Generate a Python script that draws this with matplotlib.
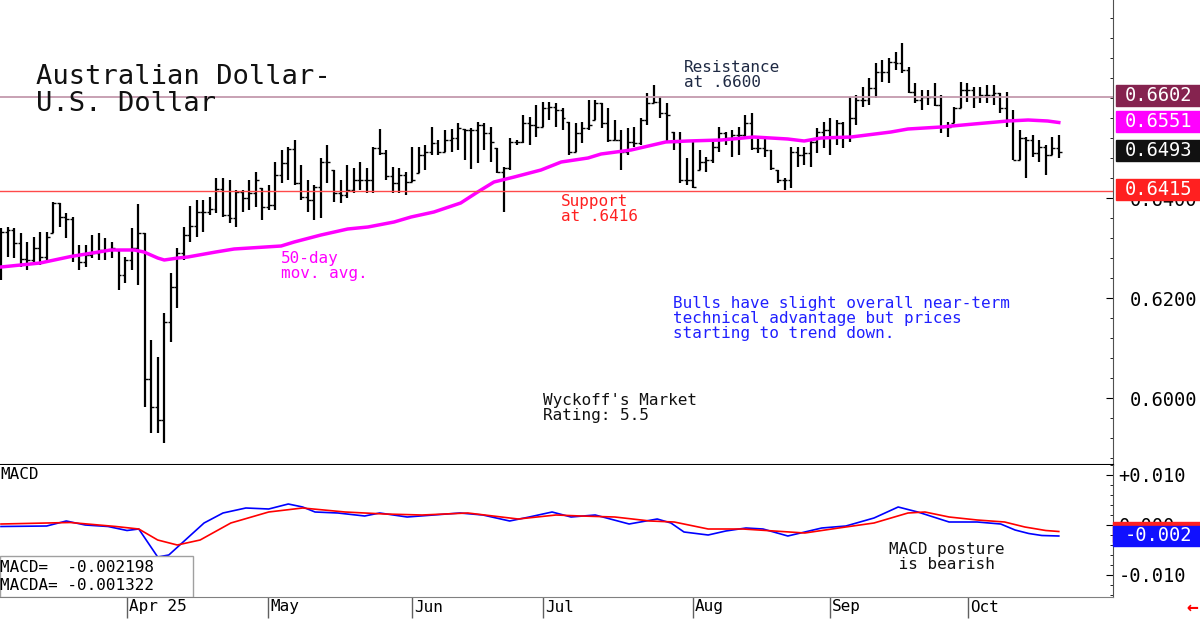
import numpy as np
import matplotlib
matplotlib.use('Agg')
import matplotlib.pyplot as plt
from matplotlib.patches import Rectangle
from matplotlib.ticker import FuncFormatter, MultipleLocator
from matplotlib.transforms import blended_transform_factory

plt.rcParams['font.family'] = 'DejaVu Sans Mono'

# daily bars, early March to late October 2025 (one entry per trading day)
highs = [
    0.6340, 0.6342, 0.6340, 0.6330, 0.6312, 0.6322, 0.6332, 0.6332, 0.6392, 0.6390,
    0.6370, 0.6362, 0.6306, 0.6306, 0.6326, 0.6330, 0.6320, 0.6312, 0.6296, 0.6282,
    0.6340, 0.6388, 0.6330, 0.6116, 0.6082, 0.6170, 0.6250, 0.6300, 0.6342, 0.6384,
    0.6396, 0.6396, 0.6402, 0.6440, 0.6440, 0.6436, 0.6416, 0.6416, 0.6436, 0.6452,
    0.6420, 0.6426, 0.6472, 0.6496, 0.6502, 0.6516, 0.6466, 0.6436, 0.6426, 0.6480,
    0.6506, 0.6456, 0.6436, 0.6466, 0.6460, 0.6472, 0.6460, 0.6502, 0.6538, 0.6496,
    0.6462, 0.6460, 0.6452, 0.6502, 0.6502, 0.6506, 0.6542, 0.6516, 0.6536, 0.6538,
    0.6550, 0.6538, 0.6540, 0.6552, 0.6550, 0.6542, 0.6500, 0.6462, 0.6520, 0.6516,
    0.6566, 0.6562, 0.6586, 0.6592, 0.6592, 0.6590, 0.6580, 0.6552, 0.6550, 0.6552,
    0.6596, 0.6596, 0.6590, 0.6580, 0.6556, 0.6536, 0.6540, 0.6542, 0.6560, 0.6610,
    0.6626, 0.6602, 0.6590, 0.6532, 0.6532, 0.6480, 0.6512, 0.6496, 0.6482, 0.6512,
    0.6542, 0.6532, 0.6536, 0.6542, 0.6566, 0.6570, 0.6522, 0.6522, 0.6496, 0.6456,
    0.6440, 0.6502, 0.6502, 0.6502, 0.6516, 0.6540, 0.6552, 0.6560, 0.6556, 0.6552,
    0.6602, 0.6606, 0.6622, 0.6640, 0.6670, 0.6676, 0.6680, 0.6692, 0.6710, 0.6662,
    0.6630, 0.6616, 0.6616, 0.6630, 0.6606, 0.6552, 0.6582, 0.6632, 0.6630, 0.6622,
    0.6622, 0.6626, 0.6626, 0.6610, 0.6612, 0.6576, 0.6536, 0.6522, 0.6526, 0.6516,
    0.6506, 0.6522, 0.6526]
lows = [
    0.6236, 0.6282, 0.6280, 0.6262, 0.6256, 0.6270, 0.6266, 0.6276, 0.6330, 0.6342,
    0.6320, 0.6272, 0.6256, 0.6262, 0.6280, 0.6276, 0.6276, 0.6280, 0.6216, 0.6230,
    0.6256, 0.6226, 0.5982, 0.5930, 0.5930, 0.5910, 0.6112, 0.6180, 0.6276, 0.6312,
    0.6322, 0.6332, 0.6366, 0.6370, 0.6362, 0.6350, 0.6342, 0.6372, 0.6376, 0.6382,
    0.6356, 0.6376, 0.6376, 0.6430, 0.6436, 0.6426, 0.6396, 0.6372, 0.6356, 0.6360,
    0.6430, 0.6392, 0.6390, 0.6400, 0.6410, 0.6416, 0.6410, 0.6410, 0.6486, 0.6436,
    0.6410, 0.6410, 0.6406, 0.6432, 0.6450, 0.6456, 0.6486, 0.6486, 0.6492, 0.6492,
    0.6496, 0.6476, 0.6458, 0.6470, 0.6496, 0.6472, 0.6450, 0.6372, 0.6456, 0.6506,
    0.6510, 0.6506, 0.6522, 0.6542, 0.6556, 0.6542, 0.6536, 0.6486, 0.6492, 0.6510,
    0.6536, 0.6556, 0.6540, 0.6512, 0.6516, 0.6456, 0.6486, 0.6502, 0.6506, 0.6546,
    0.6590, 0.6560, 0.6512, 0.6496, 0.6430, 0.6426, 0.6420, 0.6456, 0.6452, 0.6470,
    0.6492, 0.6506, 0.6482, 0.6486, 0.6522, 0.6496, 0.6490, 0.6482, 0.6456, 0.6430,
    0.6416, 0.6420, 0.6462, 0.6466, 0.6462, 0.6490, 0.6500, 0.6486, 0.6506, 0.6500,
    0.6512, 0.6546, 0.6582, 0.6586, 0.6600, 0.6632, 0.6630, 0.6656, 0.6650, 0.6610,
    0.6590, 0.6576, 0.6586, 0.6584, 0.6530, 0.6522, 0.6550, 0.6580, 0.6592, 0.6580,
    0.6590, 0.6590, 0.6586, 0.6570, 0.6542, 0.6476, 0.6476, 0.6440, 0.6482, 0.6472,
    0.6446, 0.6486, 0.6480]
closes = [
    0.6332, 0.6336, 0.6310, 0.6278, 0.6276, 0.6300, 0.6282, 0.6322, 0.6390, 0.6362,
    0.6358, 0.6286, 0.6272, 0.6286, 0.6290, 0.6296, 0.6296, 0.6300, 0.6246, 0.6276,
    0.6300, 0.6330, 0.6038, 0.5982, 0.5956, 0.6152, 0.6222, 0.6290, 0.6326, 0.6344,
    0.6372, 0.6372, 0.6378, 0.6418, 0.6366, 0.6360, 0.6412, 0.6400, 0.6410, 0.6436,
    0.6382, 0.6386, 0.6446, 0.6470, 0.6498, 0.6430, 0.6402, 0.6396, 0.6422, 0.6472,
    0.6472, 0.6410, 0.6406, 0.6416, 0.6436, 0.6436, 0.6436, 0.6500, 0.6490, 0.6444,
    0.6430, 0.6446, 0.6432, 0.6436, 0.6486, 0.6492, 0.6510, 0.6492, 0.6516, 0.6520,
    0.6540, 0.6536, 0.6536, 0.6546, 0.6530, 0.6512, 0.6452, 0.6460, 0.6512, 0.6512,
    0.6550, 0.6546, 0.6542, 0.6580, 0.6582, 0.6576, 0.6560, 0.6492, 0.6530, 0.6540,
    0.6546, 0.6590, 0.6550, 0.6516, 0.6516, 0.6492, 0.6512, 0.6510, 0.6556, 0.6590,
    0.6592, 0.6570, 0.6566, 0.6512, 0.6436, 0.6436, 0.6422, 0.6472, 0.6476, 0.6502,
    0.6530, 0.6520, 0.6526, 0.6526, 0.6550, 0.6500, 0.6500, 0.6496, 0.6460, 0.6436,
    0.6436, 0.6492, 0.6486, 0.6490, 0.6512, 0.6532, 0.6536, 0.6522, 0.6550, 0.6522,
    0.6560, 0.6596, 0.6596, 0.6620, 0.6652, 0.6652, 0.6672, 0.6670, 0.6656, 0.6612,
    0.6596, 0.6602, 0.6602, 0.6586, 0.6542, 0.6542, 0.6580, 0.6616, 0.6616, 0.6602,
    0.6606, 0.6606, 0.6610, 0.6580, 0.6556, 0.6476, 0.6520, 0.6516, 0.6490, 0.6502,
    0.6486, 0.6500, 0.6493]

# 50-day moving average (bar index, value)
ma_pos = [0, 6, 10.7, 16.8, 20.4, 21.9, 24, 25, 27.1, 28.6, 32.9, 35.7, 42.9, 44.9,
          49, 53.1, 56.2, 60.2, 62.8, 66.3, 70.4, 73, 75.5, 78.6, 82.7, 85.8, 89.9,
          91.9, 96.5, 101.8, 105.2, 110.3, 115.3, 120.5, 123, 125.6, 130.2, 136.3,
          138.9, 144, 149, 154.2, 157.3, 160.3, 162]
ma_val = [0.6262, 0.6270, 0.6283, 0.6296, 0.6296, 0.6292, 0.6280, 0.6276, 0.6280,
          0.6282, 0.6292, 0.6298, 0.6304, 0.6312, 0.6326, 0.6338, 0.6342, 0.6352,
          0.6362, 0.6372, 0.6390, 0.6412, 0.6432, 0.6442, 0.6456, 0.6472, 0.6480,
          0.6488, 0.6496, 0.6512, 0.6514, 0.6516, 0.6522, 0.6518, 0.6514, 0.6520,
          0.6522, 0.6532, 0.6538, 0.6542, 0.6548, 0.6554, 0.6556, 0.6554, 0.6551]

# MACD (blue) and MACD average (red)
macd_pos = [0, 7, 10, 12.9, 16.4, 19.3, 21.1, 24, 25.7, 31.1, 34, 37.5, 41, 44,
            46.2, 48.1, 51.6, 55.7, 58, 62.2, 70.3, 73.8, 77.9, 80.9, 84.4, 87.3,
            91, 96.2, 100.5, 102.6, 104.6, 108.3, 111, 114.1, 116.7, 120.5, 125.7,
            129.4, 133.7, 137.4, 140.4, 145.2, 149.5, 153.1, 155.3, 157.4, 159.4, 162]
macd_val = [-0.0003, -0.0002, 0.0008, 0.0000, -0.0003, -0.0011, -0.0008, -0.0064,
            -0.0060, 0.0004, 0.0024, 0.0034, 0.0032, 0.0042, 0.0036, 0.0026, 0.0024,
            0.0018, 0.0024, 0.0016, 0.0024, 0.0020, 0.0008, 0.0016, 0.0026, 0.0016,
            0.0020, 0.0002, 0.0012, 0.0004, -0.0014, -0.0020, -0.0012, -0.0006,
            -0.0008, -0.0022, -0.0006, -0.0002, 0.0014, 0.0036, 0.0026, 0.0006,
            0.0006, 0.0002, -0.0010, -0.0017, -0.0021, -0.0022]
sig_pos = [0, 10.6, 17.6, 21.1, 24, 27, 30.5, 35.2, 41, 46.2, 52.7, 58.7, 64.5,
           71.5, 79.2, 85, 88.8, 94, 99.4, 103.1, 108.3, 113.6, 118.4, 123.1, 128.3,
           133.7, 138.9, 141.5, 145.2, 149.5, 153.7, 156.8, 160, 162]
sig_val = [0.0002, 0.0005, -0.0003, -0.0008, -0.0030, -0.0040, -0.0030, 0.0004,
           0.0026, 0.0034, 0.0026, 0.0022, 0.0020, 0.0024, 0.0012, 0.0020, 0.0018,
           0.0016, 0.0008, 0.0006, -0.0008, -0.0008, -0.0012, -0.0016, -0.0006,
           0.0004, 0.0024, 0.0026, 0.0016, 0.0010, 0.0006, -0.0004, -0.0011, -0.0013]

month_pos = [19.3, 40.9, 63.0, 83.0, 106.0, 127.0, 148.1]
month_lbl = ['Apr 25', 'May', 'Jun', 'Jul', 'Aug', 'Sep', 'Oct']

resistance = 0.6602
support = 0.6415
last_close = 0.6493
last_ma = 0.6551
macd_last = -0.002198
macda_last = -0.001322

W, H = 1200, 619
fig = plt.figure(figsize=(12, 6.19), dpi=100)
ax = fig.add_axes([0, 1 - 465 / H, 1113 / W, 465 / H])
ax2 = fig.add_axes([0, 1 - 597 / H, 1113 / W, 132 / H], sharex=ax)

# price bars
x = np.arange(len(closes))
opens = np.clip([closes[0]] + closes[:-1], lows, highs)
ax.vlines(x, lows, highs, color='black', lw=1.6)
ax.hlines(opens, x - 0.45, x, color='black', lw=1)
ax.hlines(closes, x, x + 0.45, color='black', lw=1)
ax.plot(ma_pos, ma_val, color='#ff00ff', lw=2.5)
ax.axhline(resistance, color='#c49aae', lw=1.3)
ax.axhline(support, color='#ff4a4a', lw=1)

for s in ['left', 'top']:
    ax.spines[s].set_visible(False)
ax.spines['bottom'].set_color('black')
ax.spines['bottom'].set_linewidth(1.5)
ax.spines['right'].set_color('#505050')
ax.yaxis.tick_right()
ax.set_yticks([0.60, 0.62, 0.64])
ax.yaxis.set_minor_locator(MultipleLocator(0.004))
ax.yaxis.set_major_formatter(FuncFormatter(lambda v, p: f'{v:.4f}'))
ax.tick_params(axis='y', which='major', direction='in', length=5, labelsize=13.5, pad=12)
ax.tick_params(axis='y', which='minor', direction='in', length=2.5)
ax.tick_params(axis='x', which='both', bottom=False, labelbottom=False)
ax.set_xlim(-0.15, 170.3)
ax.set_ylim(0.5866, 0.6796)

# right-hand value boxes
bt = blended_transform_factory(ax.transAxes, ax.transData)
for val, col in [(resistance, '#85234f'), (last_ma, '#ff00ff'),
                 (last_close, '#111111'), (support, '#ff2020')]:
    c = val + 0.0003
    ax.add_patch(Rectangle((1116 / 1113, c - 0.0021), 84 / 1113, 0.0042,
                           transform=bt, color=col, clip_on=False, zorder=10))
    ax.text(1158 / 1113, c, f'{val:.4f}', transform=bt, color='white',
            ha='center', va='center', fontsize=13.5, clip_on=False, zorder=11)

ta = ax.transAxes
ax.text(36 / 1113, 1 - 64 / 465, 'Australian Dollar-\nU.S. Dollar', transform=ta,
        fontsize=19.5, va='top', linespacing=1.05, color='#111111')
ax.text(684 / 1113, 1 - 60 / 465, 'Resistance\nat .6600', transform=ta,
        fontsize=11.5, va='top', linespacing=1.0, color='#1f2a44')
ax.text(561 / 1113, 1 - 194 / 465, 'Support\nat .6416', transform=ta,
        fontsize=11.5, va='top', linespacing=1.0, color='#ff2020')
ax.text(281 / 1113, 1 - 251 / 465, '50-day\nmov. avg.', transform=ta,
        fontsize=11.5, va='top', linespacing=1.0, color='#ff00ff')
ax.text(673 / 1113, 1 - 296 / 465,
        'Bulls have slight overall near-term\ntechnical advantage but prices\nstarting to trend down.',
        transform=ta, fontsize=11.5, va='top', linespacing=1.02, color='#2020ff')
ax.text(543 / 1113, 1 - 393 / 465, "Wyckoff's Market\nRating: 5.5", transform=ta,
        fontsize=11.5, va='top', linespacing=1.0, color='#111111')

# MACD panel
ax2.plot(macd_pos, macd_val, color='#0000ff', lw=1.2)
ax2.plot(sig_pos, sig_val, color='#ff0000', lw=1.2)
for s in ['left', 'top']:
    ax2.spines[s].set_visible(False)
ax2.spines['right'].set_color('#505050')
ax2.spines['bottom'].set_color('#808080')
ax2.yaxis.tick_right()
ax2.set_yticks([-0.01, 0.0, 0.01])
ax2.set_yticklabels(['-0.010', '0.000', '+0.010'])
ax2.yaxis.set_minor_locator(MultipleLocator(0.002))
ax2.tick_params(axis='y', which='major', direction='in', length=5, labelsize=13.5, pad=4)
ax2.tick_params(axis='y', which='minor', direction='in', length=2.5)
ax2.set_xticks(month_pos)
ax2.tick_params(axis='x', direction='out', length=15, width=1, color='#606060',
                labelbottom=False)
ax2.set_ylim(-0.0144, 0.012)
ax2.set_xlim(-0.15, 170.3)

# signal box sits behind the MACD box, only its top edge shows
bt2 = blended_transform_factory(ax2.transAxes, ax2.transData)
ax2.add_patch(Rectangle((1.0, macda_last - 0.002), 87 / 1113, 0.004, transform=bt2,
                        color='#ff2020', clip_on=False, zorder=10))
ax2.add_patch(Rectangle((1.0, macd_last - 0.002), 87 / 1113, 0.004, transform=bt2,
                        color='#1010ff', clip_on=False, zorder=10))
ax2.text(1158 / 1113, macd_last, f'{macd_last:.3f}', transform=bt2, color='white',
         ha='center', va='center', fontsize=13.5, clip_on=False, zorder=11)

ta2 = ax2.transAxes
ax2.text(0.0, 0.985, 'MACD', transform=ta2, fontsize=11.5, va='top')
ax2.text(889 / 1113, 1 - 77 / 132, 'MACD posture\n is bearish', transform=ta2,
         fontsize=11.5, va='top', linespacing=1.0, color='#111111')
ax2.add_patch(Rectangle((0, 0), 193 / 1113, 41 / 132, transform=ta2, facecolor='white',
                        edgecolor='#a0a0a0', lw=1, zorder=5))
ax2.text(0.0, 29 / 132, f'MACD=  {macd_last:.6f}', transform=ta2, fontsize=11.5,
         va='center', zorder=6)
ax2.text(0.0, 11 / 132, f'MACDA= {macda_last:.6f}', transform=ta2, fontsize=11.5,
         va='center', zorder=6)

bx = blended_transform_factory(ax2.transData, ax2.transAxes)
for p, lbl in zip(month_pos, month_lbl):
    ax2.text(p + 0.3, -10 / 132, lbl, transform=bx, fontsize=11.5, ha='left',
             va='center', clip_on=False)

fig.text(1192 / W, 1 - 607 / H, '\u2190', color='red', fontsize=14, fontweight='bold',
         ha='center', va='center')

fig.savefig('out.png', dpi=100, facecolor='white')
